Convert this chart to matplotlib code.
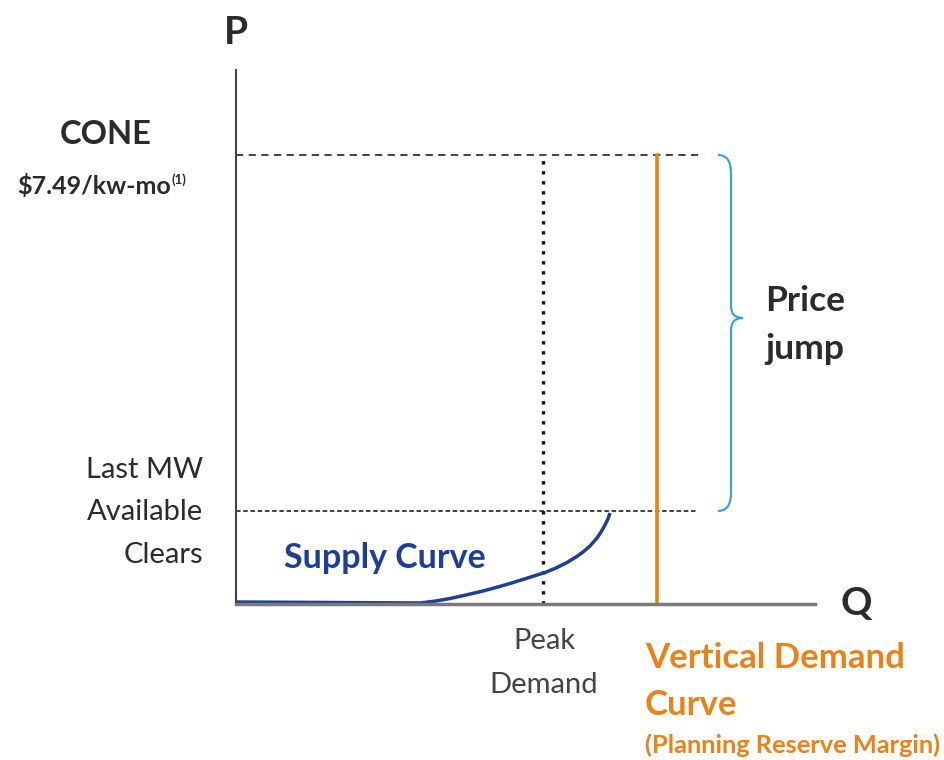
import matplotlib
matplotlib.use("Agg")
import matplotlib.pyplot as plt
from matplotlib.path import Path
from matplotlib.patches import PathPatch

plt.rcParams['font.family'] = ['Lato', 'DejaVu Sans']

# values (axis units: Q and P, origin at bottom-left)
cone_price = 449
last_mw_price = 93
peak_demand_q = 307
demand_q = 421
guide_end_q = 462

supply_q = [0, 184, 200, 214, 230, 247, 260, 274, 290, 309, 320, 331, 340,
            347, 354, 361, 365, 369, 372, 374]
supply_p = [2, 1, 3, 5.5, 9, 13, 16.5, 20.5, 25.5, 31.5, 36, 41.5, 47,
            52, 58, 66, 72, 79, 85, 91]

left_labels = ['Last MW', 'Available', 'Clears']
peak_labels = ['Peak', 'Demand']
demand_labels = ['Vertical Demand', 'Curve']

DARK = '#2b2b2b'
ORANGE = '#e8821a'
BLUE = '#1f3f97'
LIGHT_BLUE = '#3ba3d9'

W, H = 944, 760
fig = plt.figure(figsize=(W / 100, H / 100), dpi=100)
ax = fig.add_axes([236 / W, 1 - 604 / H, (815 - 236) / W, (604 - 70) / H])
ax.set_xlim(0, 579)
ax.set_ylim(0, 534)
for s in ['top', 'right']:
    ax.spines[s].set_visible(False)
ax.spines['left'].set_color('#444444')
ax.spines['left'].set_linewidth(1.5)
ax.spines['bottom'].set_color('#7a7a7a')
ax.spines['bottom'].set_linewidth(2.5)
ax.set_xticks([])
ax.set_yticks([])


def px(x, y):
    # pixel position -> figure fraction
    return x / W, 1 - y / H


# guide lines
ax.plot([0, guide_end_q], [cone_price, cone_price], color='#333333', lw=1.3,
        dashes=(4, 3), clip_on=False)
ax.plot([0, guide_end_q], [last_mw_price, last_mw_price], color='#333333', lw=1.3,
        dashes=(2.5, 1.5), clip_on=False)
ax.plot([peak_demand_q, peak_demand_q], [0, cone_price], color='#111111', lw=2.4,
        linestyle=(0, (1, 2)))

# vertical demand curve
ax.plot([demand_q, demand_q], [0, cone_price], color=ORANGE, lw=2.6, clip_on=False)

# supply curve
ax.plot(supply_q, supply_p, color=BLUE, lw=2.5, solid_capstyle='butt',
        solid_joinstyle='round', clip_on=False)

# brace for the price jump
bx0, bx1 = 482, 507
mid = (cone_price + last_mw_price) / 2 + 15
verts = [
    (bx0, cone_price), (bx0 + 13, cone_price), (bx0 + 13, cone_price - 18),
    (bx0 + 13, mid + 12), (bx0 + 13, mid), (bx1, mid),
    (bx0 + 13, mid), (bx0 + 13, mid - 12),
    (bx0 + 13, last_mw_price + 18), (bx0 + 13, last_mw_price), (bx0, last_mw_price),
]
codes = [Path.MOVETO, Path.CURVE3, Path.CURVE3,
         Path.LINETO, Path.CURVE3, Path.CURVE3,
         Path.CURVE3, Path.CURVE3,
         Path.LINETO, Path.CURVE3, Path.CURVE3]
ax.add_patch(PathPatch(Path(verts, codes), fill=False, edgecolor=LIGHT_BLUE,
                       lw=1.6, clip_on=False))

# texts
fig.text(*px(236, 32), 'P', fontsize=28, fontweight='bold', color=DARK,
         ha='center', va='center')
fig.text(*px(856, 603), 'Q', fontsize=28, fontweight='bold', color=DARK,
         ha='center', va='center')
fig.text(*px(106, 135), 'CONE', fontsize=23.5, fontweight='bold', color=DARK,
         ha='center', va='center')
fig.text(*px(171, 186), r'\$7.49/kw-mo', fontsize=18, fontweight='bold', color=DARK,
         ha='right', va='center')
fig.text(*px(172, 180), '(1)', fontsize=9.5, fontweight='bold', color=DARK,
         ha='left', va='center')
for i, lab in enumerate(left_labels):
    fig.text(*px(203, 470 + i * 42.5), lab, fontsize=21, color=DARK,
             ha='right', va='center')
fig.text(*px(385, 558), 'Supply Curve', fontsize=24.5, fontweight='bold', color=BLUE,
         ha='center', va='center')
for i, lab in enumerate(peak_labels):
    fig.text(*px(544, 641 + i * 44), lab, fontsize=21, color='#444444',
             ha='center', va='center')
for i, lab in enumerate(demand_labels):
    fig.text(*px(645, 658 + i * 47), lab, fontsize=25, fontweight='bold', color=ORANGE,
             ha='left', va='center')
fig.text(*px(645, 745), '(Planning Reserve Margin)', fontsize=18.3, fontweight='bold',
         color=ORANGE, ha='left', va='center')
fig.text(*px(765, 301), 'Price', fontsize=25.5, fontweight='bold', color=DARK,
         ha='left', va='center')
fig.text(*px(765, 349), 'jump', fontsize=25.5, fontweight='bold', color=DARK,
         ha='left', va='center')

fig.savefig('out.png', dpi=100)
